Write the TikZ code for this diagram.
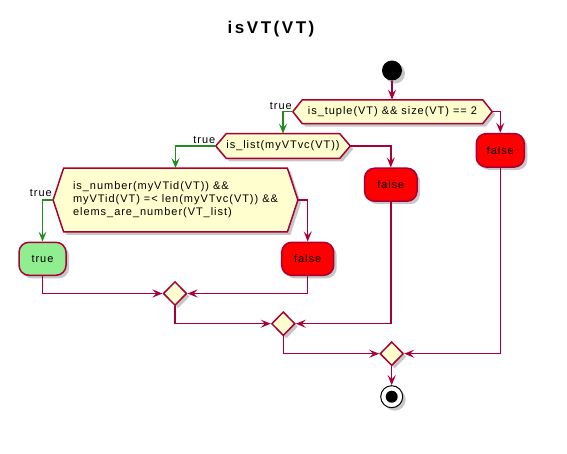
\documentclass[tikz,border=0pt]{standalone}
\usepackage{fontspec}
\setmainfont{Liberation Sans}
\newfontfamily\uifont{Liberation Sans}[LetterSpace=8.7]
\newfontfamily\ttlfont{Liberation Sans}[LetterSpace=15]
\usetikzlibrary{arrows.meta,shapes.geometric,shadows,backgrounds}
\definecolor{pline}{HTML}{A80036}
\definecolor{pfill}{HTML}{FEFECE}
\definecolor{pgreen}{HTML}{228B22}
\definecolor{pred}{HTML}{FF0000}
\definecolor{ptrue}{HTML}{90EE90}
\tikzset{
 shad/.style={drop shadow={shadow xshift=3pt,shadow yshift=-3pt,opacity=0.22,fill=black}},
 txt/.style={font=\uifont\fontsize{11}{13}\selectfont, text=black},
 hexbox/.style={txt, inner sep=0pt, align=left},
 hexshape/.style={draw=pline, fill=pfill, line width=1.5pt, shad, line join=miter},
 actbox/.style={txt, draw=pline, fill=#1, line width=1.5pt, rounded corners=10pt, inner sep=0pt, shad},
 merge/.style={diamond, draw=pline, fill=pfill, line width=1.5pt, minimum width=23.5pt, minimum height=24pt, inner sep=0pt, shad},
 flow/.style={draw=pline, line width=1.5pt, -{Stealth[length=10pt,width=8pt,inset=4pt]}},
 gflow/.style={flow, draw=pgreen},
 lbl/.style={txt, inner sep=0pt},
}
\begin{document}
\begin{tikzpicture}[x=1pt,y=-1pt]
\useasboundingbox (0,0) rectangle (567,453);
\node[font=\ttlfont\bfseries\fontsize{17}{20}\selectfont, inner sep=0pt] (title) at (271,29) {isVT(VT)};
\node[circle, fill=black, minimum size=20pt, inner sep=0pt, shad] (st) at (392,70.5) {};
\node[hexbox, minimum width=180pt, minimum height=23.5pt] (h1) at (392.5,111.7) {is\_tuple(VT) \&\& size(VT) == 2};
\node[hexbox, minimum width=110.7pt, minimum height=24.3pt] (h2) at (283,146) {is\_list(myVTvc(VT))};
\node[hexbox, minimum width=223.4pt, minimum height=63.4pt] (h3) at (175.5,200) {is\_number(myVTid(VT)) \&\&\\ myVTid(VT) =< len(myVTvc(VT)) \&\&\\ elems\_are\_number(VT\_list)};
\begin{scope}[on background layer]
\path[hexshape] (h1.north west) -- (h1.north east) -- ([xshift=9.5pt]h1.east) coordinate (h1r) -- (h1.south east) -- (h1.south west) -- ([xshift=-9.5pt]h1.west) coordinate (h1l) -- cycle;
\path[hexshape] (h2.north west) -- (h2.north east) -- ([xshift=10.5pt]h2.east) coordinate (h2r) -- (h2.south east) -- (h2.south west) -- ([xshift=-10.5pt]h2.west) coordinate (h2l) -- cycle;
\path[hexshape] (h3.north west) -- (h3.north east) -- ([xshift=10.5pt]h3.east) coordinate (h3r) -- (h3.south east) -- (h3.south west) -- ([xshift=-10.5pt]h3.west) coordinate (h3l) -- cycle;
\end{scope}
\node[actbox=pred, minimum width=48pt, minimum height=33.5pt] (f1) at (500.3,150.3) {false};
\node[actbox=pred, minimum width=52.5pt, minimum height=33pt] (f2) at (390.8,184.7) {false};
\node[actbox=ptrue, minimum width=47pt, minimum height=33pt] (t3) at (42.5,258.8) {true};
\node[actbox=pred, minimum width=52pt, minimum height=33pt] (f3) at (307.7,258.8) {false};
\node[merge] (m1) at (175,293.5) {};
\node[merge] (m2) at (283.3,323.7) {};
\node[merge] (m3) at (391.7,353.7) {};
\node[circle, draw=black, fill=white, line width=1pt, minimum size=22pt, inner sep=0pt, shad] (en) at (391.7,396.7) {};
\node[circle, fill=black, minimum size=12pt, inner sep=0pt] (enc) at (en) {};
\node[lbl, anchor=base east] (l1) at (292,109) {true};
\node[lbl, anchor=base east] (l2) at (215.5,143) {true};
\node[lbl, anchor=base east] (l3) at (52,196.5) {true};
\draw[flow] (st.south) -- (st.south |- h1.north);
\draw[gflow] (h1l) -| (h2.north);
\draw[flow] (h1r) -| (f1.north);
\draw[gflow] (h2l) -| (h3.north);
\draw[flow] (h2r) -| (f2.north);
\draw[gflow] (h3l) -| (t3.north);
\draw[flow] (h3r) -| (f3.north);
\draw[flow] (t3.south) |- (m1.west);
\draw[flow] (f3.south) |- (m1.east);
\draw[flow] (m1.south) |- (m2.west);
\draw[flow] (f2.south) |- (m2.east);
\draw[flow] (m2.south) |- (m3.west);
\draw[flow] (f1.south) |- (m3.east);
\draw[flow] (m3.south) -- (en.north);
\end{tikzpicture}
\end{document}
